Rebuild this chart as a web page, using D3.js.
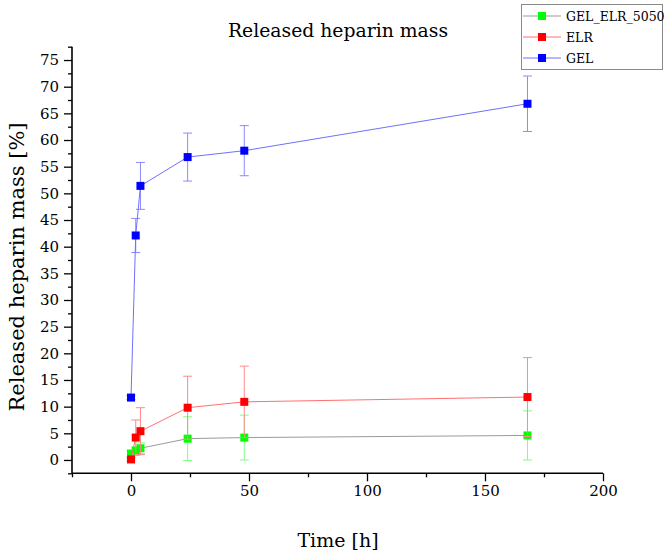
<!DOCTYPE html>
<html>
<head>
<meta charset="utf-8">
<script src="https://cdn.jsdelivr.net/npm/d3@7"></script>
<style>
  html, body { margin: 0; padding: 0; background: #ffffff; }
  svg { display: block; font-family: "DejaVu Serif", serif; }
</style>
</head>
<body>
<div id="chart"></div>
<script>
const TIMES = [0, 2, 4, 24, 48, 168];

const GEL_ELR_5050 = [1.2, 1.7, 2.2, 4.0, 4.2, 4.6];
const GEL_ELR_5050_ERR = [0.6, 0.8, 1.0, 4.1, 4.2, 4.6];

const ELR = [0.1, 4.2, 5.4, 9.8, 10.9, 11.8];
const ELR_ERR = [0.3, 3.3, 4.4, 5.9, 6.7, 7.4];

const GEL = [11.7, 42.1, 51.4, 56.8, 58.0, 66.8];
const GEL_ERR = [0.4, 3.2, 4.4, 4.5, 4.7, 5.2];

const X_TICKS = [0, 50, 100, 150, 200];
const Y_TICKS = [0, 5, 10, 15, 20, 25, 30, 35, 40, 45, 50, 55, 60, 65, 70, 75];

const SERIES = [
  { label: "GEL_ELR_5050", values: GEL_ELR_5050, errors: GEL_ELR_5050_ERR,
    color: "#00ff00", line: "#9a9a9a", err: "#80ff80" },
  { label: "ELR", values: ELR, errors: ELR_ERR,
    color: "#ff0000", line: "#ff7070", err: "#ff8a8a" },
  { label: "GEL", values: GEL, errors: GEL_ERR,
    color: "#0000ff", line: "#7070ff", err: "#8a8aff" },
];

const width = 664;
const height = 554;

const svg = d3.select("#chart")
  .append("svg")
  .attr("width", width)
  .attr("height", height);

const x = d3.scaleLinear().domain([-25, 200]).range([72, 603]);
const y = d3.scaleLinear().domain([-2.5, 77.5]).range([473.3, 46.7]);

svg.append("text")
  .attr("x", 338)
  .attr("y", 37)
  .attr("text-anchor", "middle")
  .attr("font-size", 18.8)
  .attr("fill", "#000")
  .text("Released heparin mass");

// axes
const xAxis = svg.append("g")
  .attr("transform", `translate(0,${y.range()[0]})`)
  .call(d3.axisBottom(x).tickValues(X_TICKS).tickSize(8).tickPadding(4));
xAxis.selectAll(".tick text").attr("font-size", 15).attr("font-family", "DejaVu Serif");
xAxis.selectAll("line").attr("stroke-width", 1.3);
xAxis.select(".domain").attr("stroke-width", 1.6).attr("d", `M${x.range()[0]},0H${x.range()[1]}`);

svg.append("g")
  .attr("transform", `translate(0,${y.range()[0]})`)
  .call(d3.axisBottom(x).tickValues([-25, 25, 75, 125, 175]).tickSize(4).tickFormat(""))
  .call((g) => g.select(".domain").remove())
  .selectAll("line").attr("stroke-width", 1.3);

const yAxis = svg.append("g")
  .attr("transform", `translate(${x.range()[0]},0)`)
  .call(d3.axisLeft(y).tickValues(Y_TICKS).tickSize(8).tickPadding(5));
yAxis.selectAll(".tick text").attr("font-size", 15).attr("font-family", "DejaVu Serif");
yAxis.selectAll("line").attr("stroke-width", 1.3);
yAxis.select(".domain").attr("stroke-width", 1.6).attr("d", `M0,${y.range()[0]}V${y.range()[1]}`);

svg.append("g")
  .attr("transform", `translate(${x.range()[0]},0)`)
  .call(d3.axisLeft(y).tickValues(d3.range(-2.5, 78, 5)).tickSize(4).tickFormat(""))
  .call((g) => g.select(".domain").remove())
  .selectAll("line").attr("stroke-width", 1.3);

svg.append("text")
  .attr("x", 338)
  .attr("y", 547)
  .attr("text-anchor", "middle")
  .attr("font-size", 19)
  .text("Time [h]");

svg.append("text")
  .attr("transform", "rotate(-90)")
  .attr("x", -267)
  .attr("y", 24)
  .attr("text-anchor", "middle")
  .attr("font-size", 21)
  .text("Released heparin mass [%]");

const line = d3.line()
  .x((d) => x(d.t))
  .y((d) => y(d.v));

const marker = 8;
const cap = 4.5;

SERIES.forEach((series) => {
  const points = TIMES.map((t, i) => ({ t, v: series.values[i], e: series.errors[i] }));
  const g = svg.append("g");

  const bars = g.selectAll(".err").data(points).join("g").attr("class", "err")
    .attr("stroke", series.err).attr("stroke-width", 1);
  bars.append("line")
    .attr("x1", (d) => x(d.t)).attr("x2", (d) => x(d.t))
    .attr("y1", (d) => y(d.v - d.e)).attr("y2", (d) => y(d.v + d.e));
  bars.append("line")
    .attr("x1", (d) => x(d.t) - cap).attr("x2", (d) => x(d.t) + cap)
    .attr("y1", (d) => y(d.v + d.e)).attr("y2", (d) => y(d.v + d.e));
  bars.append("line")
    .attr("x1", (d) => x(d.t) - cap).attr("x2", (d) => x(d.t) + cap)
    .attr("y1", (d) => y(d.v - d.e)).attr("y2", (d) => y(d.v - d.e));

  g.append("path")
    .datum(points)
    .attr("fill", "none")
    .attr("stroke", series.line)
    .attr("stroke-width", 1)
    .attr("d", line);

  g.selectAll(".pt").data(points).join("rect").attr("class", "pt")
    .attr("x", (d) => x(d.t) - marker / 2)
    .attr("y", (d) => y(d.v) - marker / 2)
    .attr("width", marker)
    .attr("height", marker)
    .attr("fill", series.color);
});

// legend
const legend = svg.append("g").attr("transform", "translate(521,4)");
legend.append("rect")
  .attr("x", 0.5).attr("y", 0.5)
  .attr("width", 141).attr("height", 65)
  .attr("fill", "#fff")
  .attr("stroke", "#8a8a8a")
  .attr("stroke-width", 1);

SERIES.forEach((series, i) => {
  const row = legend.append("g").attr("transform", `translate(0,${12 + i * 21})`);
  row.append("line")
    .attr("x1", 2).attr("x2", 40)
    .attr("stroke", series.line).attr("stroke-width", 1);
  row.append("rect")
    .attr("x", 21 - marker / 2).attr("y", -marker / 2)
    .attr("width", marker).attr("height", marker)
    .attr("fill", series.color);
  row.append("text")
    .attr("x", 45).attr("y", 4.5)
    .attr("font-size", 12.5)
    .text(series.label);
});
</script>
</body>
</html>
